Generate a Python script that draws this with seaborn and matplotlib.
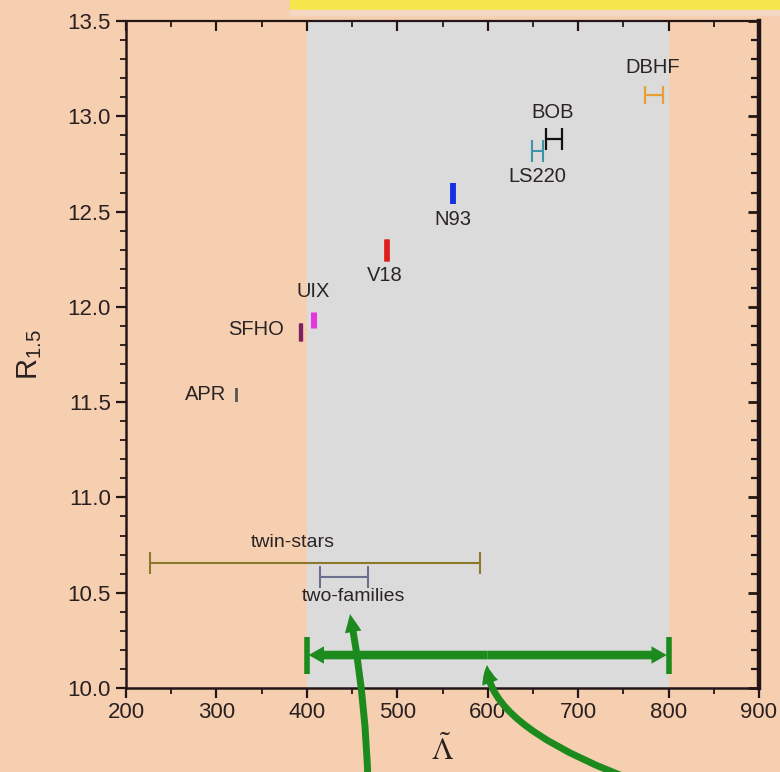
import numpy as np
import pandas as pd
import matplotlib
matplotlib.use("Agg")
import matplotlib.pyplot as plt
import seaborn as sns
from matplotlib.ticker import MultipleLocator, FormatStrFormatter
from matplotlib.patches import Rectangle

# ---------------- data ----------------
models = ["APR", "SFHO", "UIX", "V18", "N93", "LS220", "BOB", "DBHF"]
lam_lo = [321.5, 392, 406, 487, 561, 649, 664, 774]
lam_hi = [322.5, 394, 409, 489, 563, 661, 682, 794]
r15 = [11.54, 11.87, 11.93, 12.30, 12.60, 12.82, 12.88, 13.11]
model_colors = ["#555555", "#7d1f63", "#e535e0", "#e01c1c", "#1631e0",
                "#3a95a8", "#111111", "#e8a035"]

range_names = ["twin-stars", "two-families"]
range_lo = [226, 415]
range_hi = [592, 468]
range_r = [10.656, 10.582]
range_colors = ["#8a7a2a", "#6e6e8e"]

target_lo, target_hi, target_r = 400, 800, 10.173

xticks = [200, 300, 400, 500, 600, 700, 800, 900]
yticks = [10.0, 10.5, 11.0, 11.5, 12.0, 12.5, 13.0, 13.5]

df = pd.DataFrame({"model": models, "lo": lam_lo, "hi": lam_hi, "r": r15,
                   "color": model_colors})
df["mid"] = (df["lo"] + df["hi"]) / 2
df["half"] = (df["hi"] - df["lo"]) / 2

# ---------------- layout / style ----------------
# label offsets in pixels (dx, dy) relative to each marker
label_off = {"APR": (-31, 0), "SFHO": (-44, 2), "UIX": (0, 29), "V18": (-2, -26),
             "N93": (0, -27), "LS220": (0, -26), "BOB": (-1, 27), "DBHF": (-1, 28)}
cap_px = {"APR": 14, "SFHO": 18, "UIX": 16, "V18": 22, "N93": 21,
          "LS220": 22, "BOB": 22, "DBHF": 18}
bar_lw = {"APR": 1.3, "SFHO": 2.4, "UIX": 2.2, "V18": 3.4, "N93": 2.8,
          "LS220": 1.5, "BOB": 1.6, "DBHF": 1.6}
range_label_pos = [(384, 10.765), (451, 10.478)]

PEACH = "#f6cfb1"
GRAY = "#dcdbdb"
GREEN = "#1d8a1d"
INK = "#241616"

sns.set_theme(style="ticks")
plt.rcParams["font.family"] = ["Liberation Sans", "DejaVu Sans"]

fig = plt.figure(figsize=(7.8, 7.72), dpi=100, facecolor=PEACH)
ax = fig.add_axes([126 / 780, 1 - 688 / 772, (759 - 126) / 780, (688 - 21) / 772])
ax.set_facecolor(PEACH)

# top highlight of the slide
fig.patches.append(Rectangle((290 / 780, 1 - 10 / 772), 1, 10 / 772,
                             transform=fig.transFigure, color="#f6e64c", zorder=0))
fig.patches.append(Rectangle((290 / 780, 1 - 15 / 772), 1, 5 / 772,
                             transform=fig.transFigure, color="#f4d8c4", zorder=0))

ax.set_xlim(200, 900)
ax.set_ylim(10.0, 13.5)
ax.axvspan(400, 800, color=GRAY, zorder=0, lw=0)

# model error bars
for _, row in df.iterrows():
    cs = cap_px[row["model"]] * 0.72 / 2
    ax.errorbar(row["mid"], row["r"], xerr=row["half"], fmt="none",
                ecolor=row["color"], elinewidth=bar_lw[row["model"]],
                capsize=cs, capthick=bar_lw[row["model"]], zorder=3)
    dx, dy = label_off[row["model"]]
    ax.annotate(row["model"], (row["mid"], row["r"]), xytext=(dx, dy),
                textcoords="offset pixels", ha="center", va="center",
                fontsize=14.5, color="#2a2424", zorder=4)

# range bars
for name, lo, hi, r, c, (lx, ly) in zip(range_names, range_lo, range_hi, range_r,
                                          range_colors, range_label_pos):
    ax.errorbar((lo + hi) / 2, r, xerr=(hi - lo) / 2, fmt="none", ecolor=c,
                elinewidth=1.5, capsize=8, capthick=1.5, zorder=3)
    ax.text(lx, ly, name, ha="center", va="center", fontsize=14,
            color="#2a2424", zorder=4)

# green target range: double arrow with end bars
mid_t = (target_lo + target_hi) / 2
for end in (target_lo + 2, target_hi - 2):
    ax.annotate("", xy=(end, target_r), xytext=(mid_t, target_r),
                arrowprops=dict(arrowstyle="simple,head_length=1.1,head_width=1.25,tail_width=0.62",
                                mutation_scale=10, color=GREEN, lw=0,
                                shrinkA=0, shrinkB=0), zorder=5)
ax.vlines([target_lo, target_hi], 10.073, 10.268, color=GREEN, lw=4, zorder=5)

# curved pointer arrows coming from below
ax.annotate("", xy=(447.7, 10.388), xytext=(467.6, 9.50),
            arrowprops=dict(arrowstyle="simple,head_length=1.3,head_width=1.2,tail_width=0.5",
                            mutation_scale=10, color=GREEN, lw=0, shrinkA=0, shrinkB=0,
                            connectionstyle="arc3,rad=0.04", clip_on=False),
            annotation_clip=False, zorder=6)
ax.annotate("", xy=(599.2, 10.121), xytext=(770.0, 9.50),
            arrowprops=dict(arrowstyle="simple,head_length=1.3,head_width=1.2,tail_width=0.5",
                            mutation_scale=10, color=GREEN, lw=0, shrinkA=0, shrinkB=0,
                            connectionstyle="angle3,angleA=160,angleB=90", clip_on=False),
            annotation_clip=False, zorder=6)

# ticks and spines
ax.set_xticks(xticks)
ax.set_yticks(yticks)
ax.xaxis.set_minor_locator(MultipleLocator(50))
ax.yaxis.set_minor_locator(MultipleLocator(0.1))
ax.yaxis.set_major_formatter(FormatStrFormatter("%.1f"))
ax.tick_params(which="major", direction="out", length=7, width=1.6, color=INK,
               labelsize=16, labelcolor="#2a2020", pad=3)
ax.tick_params(which="minor", direction="out", length=4, width=1.3, color=INK)
ax.tick_params(axis="y", which="major", pad=4)

secx = ax.secondary_xaxis("top")
secx.set_xticks(xticks)
secx.xaxis.set_minor_locator(MultipleLocator(50))
secx.tick_params(which="major", direction="in", length=7, width=1.6, color=INK, labeltop=False)
secx.tick_params(which="minor", direction="in", length=4, width=1.3, color=INK)
secx.spines["top"].set_linewidth(1.6)
secx.spines["top"].set_color(INK)

secy = ax.secondary_yaxis("right")
secy.set_yticks(yticks)
secy.yaxis.set_minor_locator(MultipleLocator(0.1))
secy.tick_params(which="major", direction="in", length=8, width=2.0, color=INK, labelright=False)
secy.tick_params(which="minor", direction="in", length=6, width=1.6, color=INK)
secy.spines["right"].set_linewidth(3.2)
secy.spines["right"].set_color(INK)

for s in ("left", "bottom"):
    ax.spines[s].set_linewidth(1.8)
    ax.spines[s].set_color(INK)
for s in ("top", "right"):
    ax.spines[s].set_visible(False)

ax.set_ylabel(r"R$_{\mathregular{1.5}}$", fontsize=21, color="#2a2020")
ax.yaxis.set_label_coords(-0.13, 0.5)
ax.set_xlabel(r"$\tilde{\Lambda}$", fontsize=22, color="#2a2020", math_fontfamily="stix")
ax.xaxis.set_label_coords(0.5, -0.119)
ax.xaxis.label.set_va("bottom")

fig.savefig("out.png", dpi=100, facecolor=PEACH)
